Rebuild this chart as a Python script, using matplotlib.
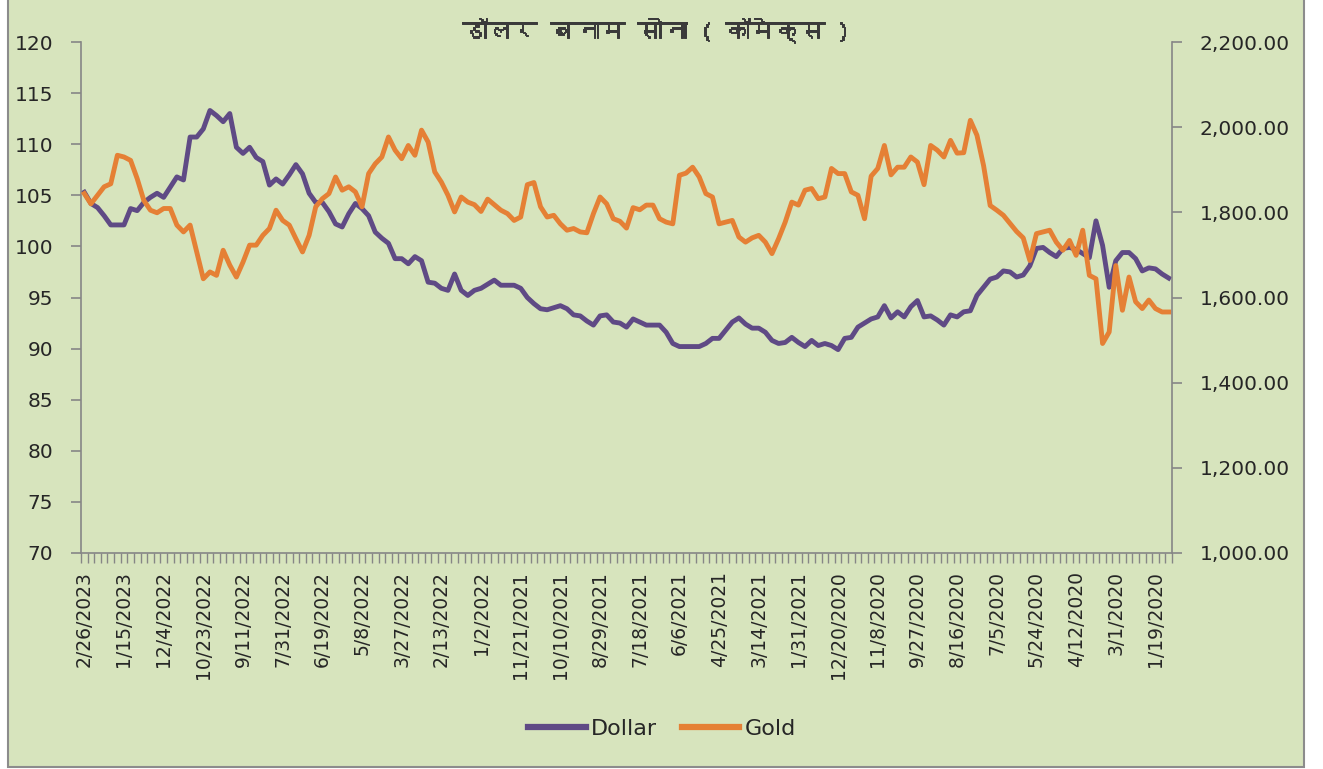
import numpy as np
import matplotlib
matplotlib.use("Agg")
import matplotlib.pyplot as plt
import matplotlib.patheffects as pe
from matplotlib import font_manager
from matplotlib.ft2font import FT2Font
from matplotlib.patches import Rectangle
from matplotlib.lines import Line2D

# weekly data, newest first (2/26/2023 back to 1/5/2020)
dollar = [
    105.3, 104.2, 103.8, 103.0, 102.1, 102.1, 102.1, 103.7, 103.5, 104.3,
    104.8, 105.2, 104.8, 105.8, 106.8, 106.5, 110.7, 110.7, 111.5, 113.3,
    112.8, 112.2, 113.0, 109.7, 109.1, 109.7, 108.7, 108.3, 106.0, 106.6,
    106.1, 107.0, 108.0, 107.1, 105.2, 104.3, 104.3, 103.4, 102.2, 101.9,
    103.2, 104.2, 103.7, 103.0, 101.4, 100.8, 100.3, 98.8, 98.8, 98.3,
    99.0, 98.6, 96.5, 96.4, 95.9, 95.7, 97.3, 95.7, 95.2, 95.7,
    95.9, 96.3, 96.7, 96.2, 96.2, 96.2, 95.9, 95.0, 94.4, 93.9,
    93.8, 94.0, 94.2, 93.9, 93.3, 93.2, 92.7, 92.3, 93.2, 93.3,
    92.6, 92.5, 92.1, 92.9, 92.6, 92.3, 92.3, 92.3, 91.6, 90.5,
    90.2, 90.2, 90.2, 90.2, 90.5, 91.0, 91.0, 91.8, 92.6, 93.0,
    92.4, 92.0, 92.0, 91.6, 90.8, 90.5, 90.6, 91.1, 90.6, 90.2,
    90.8, 90.3, 90.5, 90.3, 89.9, 91.0, 91.1, 92.1, 92.5, 92.9,
    93.1, 94.2, 93.0, 93.6, 93.1, 94.1, 94.7, 93.1, 93.2, 92.8,
    92.3, 93.3, 93.1, 93.6, 93.7, 95.2, 96.0, 96.8, 97.0, 97.6,
    97.5, 97.0, 97.2, 98.1, 99.8, 99.9, 99.4, 99.0, 99.8, 99.9,
    99.7, 99.3, 98.9, 102.5, 100.1, 96.0, 98.6, 99.4, 99.4, 98.8,
    97.6, 97.9, 97.8, 97.3, 96.9,
]

gold = [
    1844, 1820, 1840, 1860, 1867, 1934, 1930, 1922, 1879, 1828,
    1805, 1799, 1809, 1809, 1770, 1754, 1770, 1707, 1644, 1660,
    1652, 1711, 1676, 1648, 1683, 1723, 1723, 1746, 1762, 1805,
    1781, 1770, 1738, 1707, 1746, 1813, 1832, 1844, 1883, 1852,
    1860, 1848, 1813, 1891, 1914, 1930, 1977, 1946, 1926, 1957,
    1934, 1993, 1965, 1895, 1871, 1840, 1801, 1836, 1824, 1818,
    1802, 1831, 1818, 1805, 1797, 1781, 1789, 1865, 1870, 1813,
    1789, 1793, 1773, 1758, 1762, 1754, 1752, 1797, 1836, 1820,
    1785, 1779, 1763, 1811, 1806, 1817, 1817, 1785, 1777, 1773,
    1887, 1892, 1906, 1883, 1844, 1836, 1773, 1777, 1781, 1742,
    1730, 1740, 1746, 1730, 1703, 1738, 1777, 1824, 1817, 1852,
    1856, 1832, 1836, 1903, 1891, 1891, 1848, 1840, 1785, 1885,
    1903, 1957, 1888, 1906, 1906, 1930, 1918, 1865, 1957, 1946,
    1930, 1969, 1939, 1940, 2016, 1981, 1910, 1816, 1805, 1793,
    1774, 1755, 1740, 1687, 1750, 1754, 1758, 1730, 1711, 1734,
    1699, 1758, 1652, 1644, 1492, 1519, 1675, 1570, 1648, 1590,
    1574, 1594, 1574, 1566, 1566,
]

date_labels = [
    "2/26/2023", "1/15/2023", "12/4/2022", "10/23/2022", "9/11/2022",
    "7/31/2022", "6/19/2022", "5/8/2022", "3/27/2022", "2/13/2022",
    "1/2/2022", "11/21/2021", "10/10/2021", "8/29/2021", "7/18/2021",
    "6/6/2021", "4/25/2021", "3/14/2021", "1/31/2021", "12/20/2020",
    "11/8/2020", "9/27/2020", "8/16/2020", "7/5/2020", "5/24/2020",
    "4/12/2020", "3/1/2020", "1/19/2020",
]
label_step = 6

title = "डॉलर बनाम सोना ( कॉमेक्स )"


def find_font(codepoint):
    """look for an installed font that has the given glyph"""
    for f in font_manager.fontManager.ttflist:
        try:
            if codepoint in FT2Font(f.fname).get_charmap():
                return f.name
        except Exception:
            pass
    return None


deva_font = find_font(0x0921)
title_family = [deva_font, "DejaVu Sans"] if deva_font else ["DejaVu Sans"]

W, H = 1323, 769
bg = "#D7E4BD"
axis_col = "#868686"
text_col = "#262626"
c_dollar = "#5F4A85"
c_gold = "#E58035"

fig = plt.figure(figsize=(W / 100, H / 100), dpi=100, facecolor="white")
fig.patches.append(Rectangle((8 / W, 2 / H), (1304 - 8) / W, 1.2,
                             transform=fig.transFigure, facecolor=bg,
                             edgecolor="#8C8C8C", lw=1.5, zorder=-10))

ax = fig.add_axes([81 / W, 1 - 553 / H, (1172 - 81) / W, (553 - 42) / H])
ax.patch.set_alpha(0)
ax2 = ax.twinx()

x = np.arange(len(dollar))
ax.plot(x, dollar, color=c_dollar, lw=3.5, solid_joinstyle="round")
ax2.plot(x, gold, color=c_gold, lw=3.5, solid_joinstyle="round")

ax.set_xlim(-0.5, len(dollar) - 0.5)
ax.set_ylim(70, 120)
ax2.set_ylim(1000, 2200)
ax.set_yticks(np.arange(70, 121, 5))
ax2.set_yticks(np.arange(1000, 2201, 200))
ax2.set_yticklabels([f"{v:,.2f}" for v in np.arange(1000, 2201, 200)])

ax.set_xticks(np.arange(0, len(dollar), label_step))
ax.set_xticklabels(date_labels)
ax.set_xticks(np.arange(-0.5, len(dollar), 1), minor=True)

for s in ["top", "right"]:
    ax.spines[s].set_visible(False)
for s in ["top", "left", "bottom"]:
    ax2.spines[s].set_visible(False)
for s in [ax.spines["left"], ax.spines["bottom"], ax2.spines["right"]]:
    s.set_color(axis_col)
    s.set_linewidth(1.2)

ax.tick_params(axis="x", which="major", length=0, pad=13, labelrotation=90,
               labelsize=13.5, labelcolor=text_col)
ax.tick_params(axis="x", which="minor", length=7, width=1, color=axis_col)
ax.tick_params(axis="y", length=7, width=1.2, color=axis_col, pad=13,
               labelsize=14.5, labelcolor=text_col)
ax2.tick_params(axis="y", length=7, width=1.2, color=axis_col, pad=13,
                labelsize=14.5, labelcolor=text_col)

fig.text(656 / W, 1 - 30 / H, title, ha="center", va="center", fontsize=18,
         fontweight="bold", color="#3A3A3A", family=title_family,
         path_effects=[pe.withStroke(linewidth=0.7, foreground="#3A3A3A")])

handles = [Line2D([], [], color=c_dollar, lw=4.5),
           Line2D([], [], color=c_gold, lw=4.5)]
fig.legend(handles, ["Dollar", "Gold"], loc="center",
           bbox_to_anchor=(662 / W, 1 - 729 / H), ncol=2, frameon=False,
           fontsize=16, handlelength=2.6, handletextpad=0.25,
           columnspacing=1.1, labelcolor=text_col)

fig.savefig("out.png", dpi=100, facecolor="white")
